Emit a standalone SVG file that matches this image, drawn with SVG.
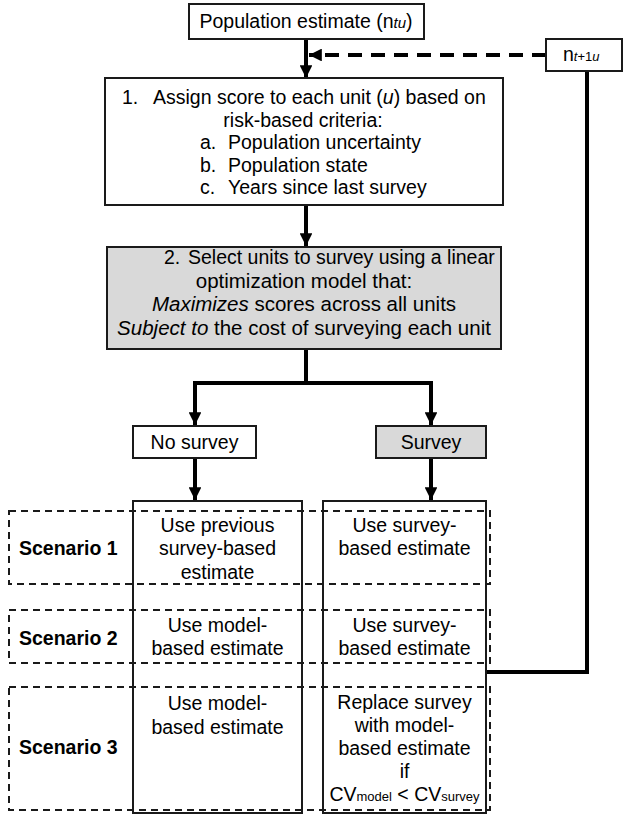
<svg xmlns="http://www.w3.org/2000/svg" width="623" height="815" viewBox="0 0 623 815">
<defs>
<style>
text{font-family:"Liberation Sans",Arial,sans-serif;font-size:19.5px;fill:#000}
.box{fill:#fff;stroke:#1a1a1a;stroke-width:2}
.gray{fill:#d9d9d9;stroke:#1a1a1a;stroke-width:2}
.col{fill:none;stroke:#1a1a1a;stroke-width:2}
.scen{fill:none;stroke:#1a1a1a;stroke-width:2;stroke-dasharray:7 5}
.conn{fill:none;stroke:#000;stroke-width:4}
.dash{fill:none;stroke:#000;stroke-width:4;stroke-dasharray:14 9}
.m{text-anchor:middle}
.b{font-weight:bold}
.i{font-style:italic}
.s2{font-size:20.5px}
</style>
<marker id="ah" viewBox="0 0 10 10" refX="10" refY="5" markerWidth="3.2" markerHeight="3.2" orient="auto" markerUnits="strokeWidth">
<path d="M0,0 L10,5 L0,10 z" fill="#000"/>
</marker>
</defs>

<g id="connectors">
<line class="conn" x1="306" y1="39" x2="306" y2="78" marker-end="url(#ah)"/>
<line class="dash" x1="546" y1="55" x2="309" y2="55" marker-end="url(#ah)"/>
<polyline class="conn" points="587,71 587,672 486,672"/>
<line class="conn" x1="306" y1="205" x2="306" y2="246" marker-end="url(#ah)"/>
<polyline class="conn" points="306,349 306,383 195,383 195,425" marker-end="url(#ah)"/>
<polyline class="conn" points="306,383 431,383 431,425" marker-end="url(#ah)"/>
<line class="conn" x1="195" y1="458" x2="195" y2="500" marker-end="url(#ah)"/>
<line class="conn" x1="431" y1="458" x2="431" y2="500" marker-end="url(#ah)"/>
</g>

<g id="pop-estimate">
<rect class="box" x="189" y="4" width="235" height="35"/>
<text class="m" x="306" y="28">Population estimate (n<tspan class="i" font-size="15">tu</tspan>)</text>
</g>

<g id="next-estimate">
<rect class="box" x="546" y="39" width="76" height="32"/>
<text x="563" y="61" font-size="16">n<tspan class="i" font-size="13">t</tspan><tspan font-size="13">+1</tspan><tspan class="i" font-size="13">u</tspan></text>
</g>

<g id="step1">
<rect class="box" x="105" y="78" width="398" height="127"/>
<text x="122" y="104">1.</text>
<text x="153" y="104">Assign score to each unit (<tspan class="i">u</tspan>) based on</text>
<text class="m" x="303" y="126.5">risk-based criteria:</text>
<text x="200" y="149">a.</text><text x="228" y="149">Population uncertainty</text>
<text x="200" y="171.5">b.</text><text x="228" y="171.5">Population state</text>
<text x="200" y="194">c.</text><text x="228" y="194">Years since last survey</text>
</g>

<g id="step2">
<rect class="gray" x="107" y="247" width="394" height="102"/>
<text x="164" y="264" font-size="19">2.</text>
<text x="188" y="264" font-size="19">Select units to survey using a linear</text>
<text class="m s2" x="304" y="287.5">optimization model that:</text>
<text class="m s2" x="304" y="311"><tspan class="i">Maximizes</tspan> scores across all units</text>
<text class="m s2" x="304" y="334.5"><tspan class="i">Subject to</tspan> the cost of surveying each unit</text>
</g>

<g id="no-survey">
<rect class="box" x="133" y="426" width="123" height="32"/>
<text class="m" x="194.5" y="449">No survey</text>
</g>

<g id="survey">
<rect class="gray" x="376" y="426" width="110" height="32"/>
<text class="m" x="431" y="449">Survey</text>
</g>

<g id="col-no-survey">
<rect class="col" x="133" y="501" width="169" height="312"/>
</g>

<g id="col-survey">
<rect class="col" x="323" y="501" width="163" height="312"/>
</g>

<g id="scenario1">
<rect class="scen" x="9" y="511" width="481" height="73"/>
<text class="b" x="19" y="555">Scenario 1</text>
<text class="m" x="217.5" y="532">Use previous</text>
<text class="m" x="217.5" y="555">survey-based</text>
<text class="m" x="217.5" y="579">estimate</text>
<text class="m" x="404.5" y="532">Use survey-</text>
<text class="m" x="404.5" y="555">based estimate</text>
</g>

<g id="scenario2">
<rect class="scen" x="9" y="610" width="481" height="53"/>
<text class="b" x="19" y="645">Scenario 2</text>
<text class="m" x="217.5" y="632">Use model-</text>
<text class="m" x="217.5" y="655">based estimate</text>
<text class="m" x="404.5" y="632">Use survey-</text>
<text class="m" x="404.5" y="655">based estimate</text>
</g>

<g id="scenario3">
<rect class="scen" x="9" y="687" width="481" height="123"/>
<text class="b" x="19" y="754">Scenario 3</text>
<text class="m" x="217.5" y="710">Use model-</text>
<text class="m" x="217.5" y="734">based estimate</text>
<text class="m" x="404.5" y="709">Replace survey</text>
<text class="m" x="404.5" y="732">with model-</text>
<text class="m" x="404.5" y="755">based estimate</text>
<text class="m" x="404.5" y="778">if</text>
<text class="m" x="404.5" y="801" font-size="16">CV<tspan font-size="13">model</tspan> &lt; CV<tspan font-size="13">survey</tspan></text>
</g>
</svg>
